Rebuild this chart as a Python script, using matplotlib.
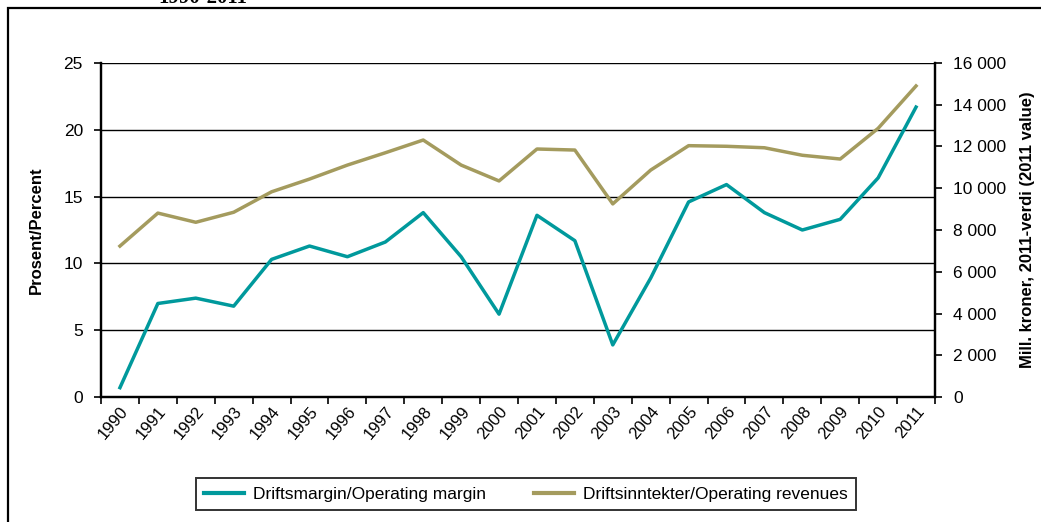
import matplotlib.pyplot as plt
from matplotlib.patches import Rectangle
from matplotlib.lines import Line2D
from matplotlib.ticker import FuncFormatter

plt.rcParams["font.family"] = ["Liberation Sans", "DejaVu Sans"]

# data
years = [str(y) for y in range(1990, 2012)]
margin_pct = [0.7, 7.0, 7.4, 6.8, 10.3, 11.3, 10.5, 11.6, 13.8, 10.5, 6.2,
              13.6, 11.7, 3.9, 8.9, 14.6, 15.9, 13.8, 12.5, 13.3, 16.4, 21.7]
revenues = [7230, 8810, 8370, 8850, 9830, 10440, 11110, 11700, 12310, 11110, 10350,
            11880, 11830, 9250, 10870, 12040, 12010, 11940, 11580, 11400, 12870, 14900]

teal = "#00999C"
olive = "#A49B5E"

fig = plt.figure(figsize=(10.41, 5.22), dpi=100)

# outer frame and clipped heading
fig.patches.append(Rectangle((8 / 1041, -0.1), 1.2, 1 - 8 / 522 + 0.1,
                             transform=fig.transFigure, fill=False,
                             edgecolor="black", linewidth=1.6))
fig.text(158 / 1041, 1 - 3 / 522, "1990-2011", family="Liberation Serif",
         fontweight="bold", fontsize=15, va="baseline", ha="left")

ax = fig.add_axes([101 / 1041, 1 - 397 / 522, 834 / 1041, 334 / 522])
ax2 = ax.twinx()

x = list(range(len(years)))
ax.plot(x, margin_pct, color=teal, linewidth=2.5, zorder=3)
ax2.plot(x, revenues, color=olive, linewidth=2.5, zorder=3)

ax.set_xlim(-0.5, len(years) - 0.5)
ax.set_ylim(0, 25)
ax.set_yticks([0, 5, 10, 15, 20, 25])
ax2.set_ylim(0, 16000)
ax2.set_yticks(range(0, 16001, 2000))
ax2.yaxis.set_major_formatter(FuncFormatter(lambda v, p: f"{int(v):,}".replace(",", " ")))

ax.yaxis.grid(True, color="black", linewidth=1.0)
ax.set_axisbelow(True)

ax.set_xticks([i - 0.5 for i in x] + [len(years) - 0.5])
ax.set_xticklabels([])
ax.set_xticks(x, minor=True)
ax.set_xticklabels(years, minor=True, rotation=50, ha="right", va="top",
                   rotation_mode="anchor", fontsize=12)
ax.tick_params(axis="x", which="minor", length=0, pad=5)
ax.tick_params(axis="x", which="major", length=5, width=1.2, direction="out")
ax.tick_params(axis="y", length=5, width=1.2, labelsize=12.5, pad=8)
ax2.tick_params(axis="y", length=5, width=1.2, labelsize=12.5, pad=8)

for a in (ax, ax2):
    a.spines["top"].set_visible(False)
    for s in ("left", "right", "bottom"):
        a.spines[s].set_linewidth(1.6)

ax.set_ylabel("Prosent/Percent", fontweight="bold", fontsize=12, labelpad=14)
ax2.set_ylabel("Mill. kroner, 2011-verdi (2011 value)", fontweight="bold",
               fontsize=12, labelpad=10)

handles = [Line2D([], [], color=teal, linewidth=3),
           Line2D([], [], color=olive, linewidth=3)]
leg = fig.legend(handles, ["Driftsmargin/Operating margin",
                           "Driftsinntekter/Operating revenues"],
                 loc="center", bbox_to_anchor=(526 / 1041, 1 - 494 / 522),
                 ncol=2, frameon=True, fancybox=False, fontsize=12.5,
                 handlelength=2.3, handletextpad=0.5, columnspacing=2.8,
                 borderpad=0.5, borderaxespad=0)
leg.get_frame().set_edgecolor("black")
leg.get_frame().set_linewidth(1.4)

fig.savefig("out.png", dpi=100)
